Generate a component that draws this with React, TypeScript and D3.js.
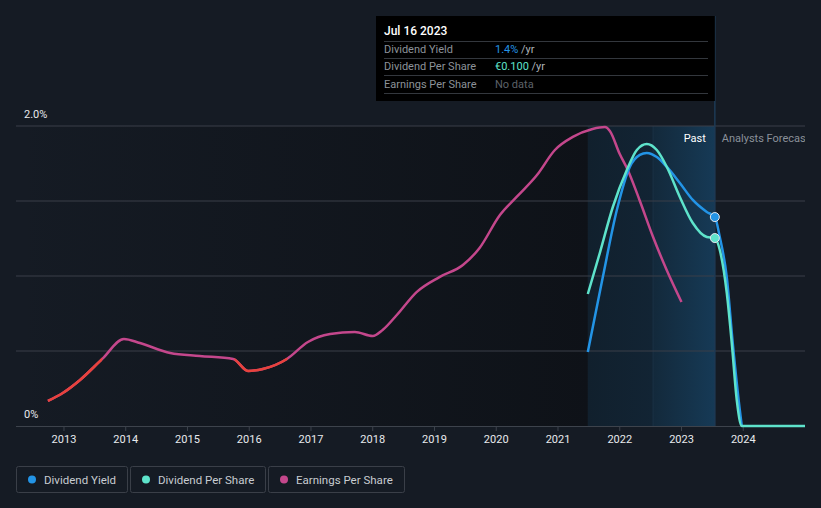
import React from "react";
import * as d3 from "d3";

const yearTicks = [2013, 2014, 2015, 2016, 2017, 2018, 2019, 2020, 2021, 2022, 2023, 2024];
const yTickLabels = [
  { v: 0, label: "0%" },
  { v: 2.0, label: "2.0%" },
];
const gridValues = [0.5, 1.0, 1.5, 2.0];

// [decimal year, value %]
const dividendYield: [number, number][] = [
  [2021.483, 0.493], [2021.726, 0.993], [2021.953, 1.44], [2022.163, 1.727],
  [2022.325, 1.807], [2022.438, 1.82], [2022.6, 1.793], [2022.763, 1.727],
  [2022.973, 1.62], [2023.183, 1.507], [2023.41, 1.427], [2023.54, 1.393],
  [2023.62, 1.26], [2023.733, 0.993], [2023.83, 0.553], [2023.944, 0.107],
  [2023.976, 0],
];
const dividendPerShare: [number, number][] = [
  [2021.483, 0.88], [2021.677, 1.153], [2021.888, 1.46], [2022.115, 1.707],
  [2022.277, 1.84], [2022.438, 1.88], [2022.6, 1.84], [2022.763, 1.727],
  [2022.973, 1.527], [2023.183, 1.353], [2023.41, 1.26], [2023.54, 1.253],
  [2023.62, 1.173], [2023.733, 0.887], [2023.814, 0.553], [2023.895, 0.173],
  [2023.976, 0], [2025.0, 0],
];
const earningsPerShare: [number, number][] = [
  [2012.74, 0.167], [2012.98, 0.22], [2013.26, 0.307], [2013.62, 0.447],
  [2013.97, 0.58], [2014.23, 0.553], [2014.72, 0.487], [2015.2, 0.467],
  [2015.74, 0.447], [2015.98, 0.367], [2016.22, 0.38], [2016.61, 0.447],
  [2016.95, 0.56], [2017.31, 0.613], [2017.71, 0.627], [2018.0, 0.6],
  [2018.16, 0.64], [2018.39, 0.74], [2018.71, 0.893], [2019.08, 0.993],
  [2019.46, 1.073], [2019.73, 1.187], [2020.06, 1.407], [2020.33, 1.527],
  [2020.66, 1.673], [2020.95, 1.84], [2021.24, 1.927], [2021.56, 1.98],
  [2021.76, 1.993], [2021.84, 1.967], [2022.0, 1.813], [2022.13, 1.707],
  [2022.32, 1.507], [2022.54, 1.26], [2022.76, 1.04], [2023.0, 0.827],
];
const epsRedRanges: [number, number][] = [
  [2012.6, 2013.62],
  [2015.76, 2016.62],
];
const pastStart = 2021.483;
const hoverStart = 2022.54;
const hoverDate = 2023.54;

const legendItems = [
  { label: "Dividend Yield", color: "#2394e6" },
  { label: "Dividend Per Share", color: "#5ee3cb" },
  { label: "Earnings Per Share", color: "#c4478c" },
];

const C_BG = "#151b24";
const C_BLUE = "#2394e6";
const C_TEAL = "#5ee3cb";
const C_MAG = "#c4478c";
const C_RED = "#e8423c";
const FONT = "Roboto, 'Noto Sans', sans-serif";

export default function App() {
  const W = 821;
  const H = 508;
  const x = d3.scaleLinear().domain([2012.223, 2025.0]).range([16, 805]);
  const y = d3.scaleLinear().domain([0, 2.0]).range([426, 126]);
  const line = d3
    .line<[number, number]>()
    .x((d) => x(d[0]))
    .y((d) => y(d[1]))
    .curve(d3.curveMonotoneX);

  const lastDY = dividendYield.find((d) => d[0] === hoverDate)!;
  const lastDPS = dividendPerShare.find((d) => d[0] === hoverDate)!;
  const hx = x(hoverDate);

  const legendWidths = [111, 135, 136];
  let lx = 16;

  return (
    <svg width={W} height={H} style={{ display: "block", position: "absolute", left: 0, top: 0 }} fontFamily={FONT}>
      <defs>
        <linearGradient id="plotShade" x1="0" x2="1" y1="0" y2="0">
          <stop offset="0" stopColor="#0c0f14" stopOpacity="0" />
          <stop offset="1" stopColor="#0c0f14" stopOpacity="0.75" />
        </linearGradient>
        <linearGradient id="pastFill" x1="0" x2="1" y1="0" y2="0">
          <stop offset="0" stopColor="#11202d" />
          <stop offset="1" stopColor="#122434" />
        </linearGradient>
        <linearGradient id="hoverFill" x1="0" x2="1" y1="0" y2="0">
          <stop offset="0" stopColor="#13293b" />
          <stop offset="1" stopColor="#163a56" />
        </linearGradient>
        {epsRedRanges.map((r, i) => (
          <clipPath id={`red${i}`} key={i}>
            <rect x={x(r[0])} y={0} width={x(r[1]) - x(r[0])} height={H} />
          </clipPath>
        ))}
      </defs>
      <rect x={0} y={0} width={W} height={H} fill={C_BG} />
      {/* plot shading */}
      <rect x={16} y={126} width={x(pastStart) - 16} height={300} fill="url(#plotShade)" />
      <rect x={x(pastStart)} y={126} width={x(hoverStart) - x(pastStart)} height={300} fill="url(#pastFill)" />
      <rect x={x(hoverStart)} y={126} width={hx - x(hoverStart)} height={300} fill="url(#hoverFill)" />
      <line x1={x(hoverStart)} x2={x(hoverStart)} y1={126} y2={426} stroke="#1a3245" strokeWidth={1} />

      {/* grid */}
      {gridValues.map((v) => (
        <line key={v} x1={16} x2={805} y1={y(v)} y2={y(v)} stroke="#3a3f48" strokeWidth={1} />
      ))}
      <line x1={16} x2={805} y1={y(0) + 0.5} y2={y(0) + 0.5} stroke="#3d434c" strokeWidth={1} />
      {yearTicks.map((t) => (
        <g key={t}>
          <line x1={x(t)} x2={x(t)} y1={426} y2={431} stroke="#3d434c" />
          <text x={x(t)} y={443} textAnchor="middle" fill="#e8eaed" fontSize={11}>
            {t}
          </text>
        </g>
      ))}
      {yTickLabels.map((t) => (
        <text key={t.label} x={24} y={y(t.v) - 8} fill="#e8eaed" fontSize={11}>
          {t.label}
        </text>
      ))}

      {/* hover line */}
      <line x1={hx} x2={hx} y1={16} y2={426} stroke="#1d3a55" strokeWidth={1.5} />
      <text x={hx - 9} y={142} textAnchor="end" fill="#ffffff" fontSize={11}>
        Past
      </text>
      <text x={hx + 7} y={142} fill="#8a9099" fontSize={11}>
        Analysts Forecasts
      </text>
      <rect x={805} y={120} width={16} height={30} fill={C_BG} />

      {/* EPS */}
      <path d={line(earningsPerShare)!} fill="none" stroke={C_MAG} strokeWidth={2.5} />
      {epsRedRanges.map((r, i) => (
        <path key={i} d={line(earningsPerShare)!} fill="none" stroke={C_RED} strokeWidth={2.5} clipPath={`url(#red${i})`} />
      ))}
      {/* Dividend yield */}
      <path d={line(dividendYield)!} fill="none" stroke={C_BLUE} strokeWidth={2.5} />
      {/* DPS */}
      <path d={line(dividendPerShare)!} fill="none" stroke={C_TEAL} strokeWidth={2.5} />

      <circle cx={x(lastDY[0])} cy={y(lastDY[1])} r={4.5} fill={C_BLUE} stroke="#e6e9ee" strokeWidth={1} />
      <circle cx={x(lastDPS[0])} cy={y(lastDPS[1])} r={4.5} fill={C_TEAL} stroke="#e6e9ee" strokeWidth={1} />

      {/* tooltip */}
      <rect x={376} y={16} width={hx - 376} height={85} fill="#000000" />
      <text x={384} y={35} fill="#ffffff" fontSize={12} fontWeight={500}>
        Jul 16 2023
      </text>
      {[41.5, 58.5, 75.5, 93.5].map((yy) => (
        <line key={yy} x1={384} x2={708} y1={yy} y2={yy} stroke="#33373d" />
      ))}
      <text x={384} y={53} fill="#8c9299" fontSize={11}>Dividend Yield</text>
      <text x={495} y={53} fontSize={11}>
        <tspan fill={C_BLUE}>1.4%</tspan>
        <tspan fill="#aeb3b9"> /yr</tspan>
      </text>
      <text x={384} y={70} fill="#8c9299" fontSize={11}>Dividend Per Share</text>
      <text x={495} y={70} fontSize={11}>
        <tspan fill={C_TEAL}>€0.100</tspan>
        <tspan fill="#aeb3b9"> /yr</tspan>
      </text>
      <text x={384} y={88} fill="#8c9299" fontSize={11}>Earnings Per Share</text>
      <text x={495} y={88} fill="#5d6269" fontSize={11}>No data</text>

      {/* legend */}
      {legendItems.map((it, i) => {
        const bx = lx;
        const w = legendWidths[i];
        lx += w + 3;
        return (
          <g key={it.label}>
            <rect x={bx + 0.5} y={466.5} width={w} height={26} rx={2} fill="none" stroke="#3a3f48" />
            <circle cx={bx + 16} cy={479.5} r={4} fill={it.color} />
            <text x={bx + 28} y={483.5} fill="#c8ccd1" fontSize={11.5}>
              {it.label}
            </text>
          </g>
        );
      })}
    </svg>
  );
}
